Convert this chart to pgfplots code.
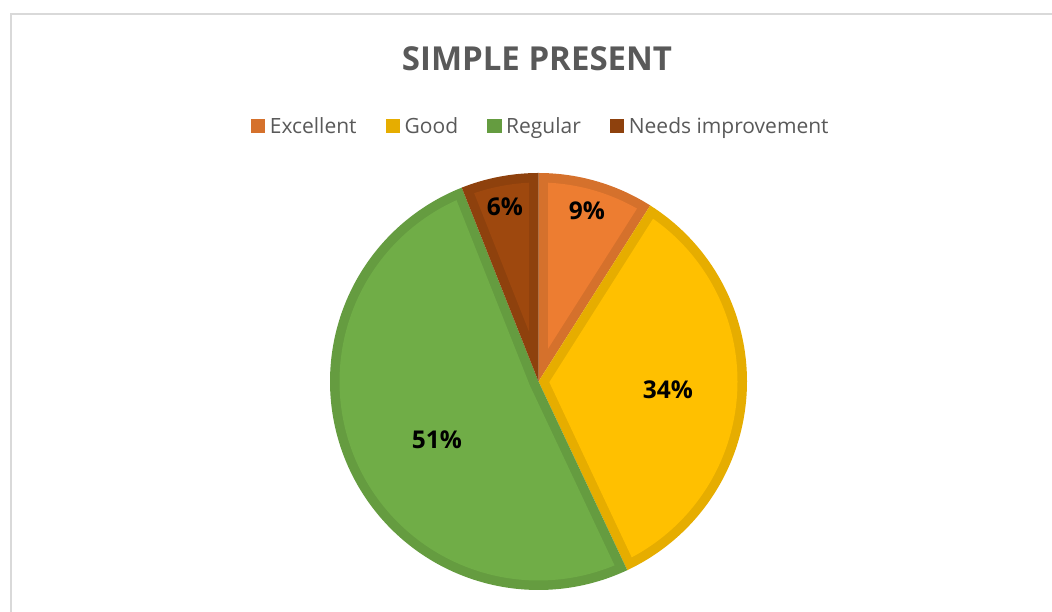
\documentclass[border=0pt]{standalone}
\usepackage{fontspec}
\setmainfont{Open Sans}
\usepackage{pgfplots}
\usepackage{pgfplotstable}
\pgfplotsset{compat=1.18}

\definecolor{exD}{HTML}{D5712C}\definecolor{exL}{HTML}{ED7D31}
\definecolor{goD}{HTML}{E6AD00}\definecolor{goL}{HTML}{FFC000}
\definecolor{reD}{HTML}{659C40}\definecolor{reL}{HTML}{70AD47}
\definecolor{niD}{HTML}{8E410D}\definecolor{niL}{HTML}{9E480E}
\definecolor{txtgray}{HTML}{595959}
\definecolor{framegray}{HTML}{D9D9D9}

\pgfplotstableread{
name value
Excellent 9
Good 34
Regular 51
Needs 6
}\piedata

\def\cx{538.5}\def\cy{230.5}\def\R{208.5}\def\bw{9.5}

\newcommand\pieslice[5]{%
  \pgfmathsetmacro\pslo{#1}\pgfmathsetmacro\pshi{#2}%
  \pgfmathsetmacro\psth{\pshi-\pslo}%
  \pgfmathsetmacro\psmid{(\pshi+\pslo)/2}%
  \pgfmathsetmacro\psvd{\bw/sin(\psth/2)}%
  \pgfmathsetmacro\pvx{\cx+\psvd*cos(\psmid)}%
  \pgfmathsetmacro\pvy{\cy+\psvd*sin(\psmid)}%
  \pgfmathsetmacro\psri{\R-\bw}%
  \pgfmathsetmacro\psdphi{asin(\bw/\psri)}%
  \pgfmathsetmacro\pslob{\pslo+\psdphi}%
  \pgfmathsetmacro\pshib{\pshi-\psdphi}%
  \edef\pstmp{%
    \noexpand\addplot[fill=#3, draw=none, domain=\pslo:\pshi, samples=150]
      ({\cx+\R*cos(x)},{\cy+\R*sin(x)}) -- (axis cs:\cx,\cy) -- cycle;
    \noexpand\addlegendentry{#5}
    \noexpand\addplot[fill=#4, draw=none, domain=\pslob:\pshib, samples=150, forget plot]
      ({\cx+\psri*cos(x)},{\cy+\psri*sin(x)}) -- (axis cs:\pvx,\pvy) -- cycle;
  }%
  \pstmp}

\begin{document}%
\begin{tikzpicture}
\pgfplotstablegetelem{0}{value}\of\piedata \let\vA\pgfplotsretval
\pgfplotstablegetelem{1}{value}\of\piedata \let\vB\pgfplotsretval
\pgfplotstablegetelem{2}{value}\of\piedata \let\vC\pgfplotsretval
\pgfplotstablegetelem{3}{value}\of\piedata \let\vD\pgfplotsretval
\pgfmathsetmacro\aO{90}
\pgfmathsetmacro\aA{\aO-3.6*\vA}
\pgfmathsetmacro\aB{\aA-3.6*\vB}
\pgfmathsetmacro\aC{\aB-3.6*\vC}
\pgfmathsetmacro\aD{\aC-3.6*\vD}
\begin{axis}[
  at={(0,0)}, anchor=origin,
  scale only axis, width=1052pt, height=612pt,
  xmin=0, xmax=1052, ymin=0, ymax=612,
  hide axis, clip=false,
  legend columns=4,
  legend style={at={(axis cs:542,486)}, anchor=center, draw=none, fill=none,
    font=\fontsize{21}{24}\selectfont\color{txtgray},
    nodes={inner xsep=4.5pt, inner ysep=1pt},
    /tikz/every even column/.append style={column sep=24.5pt}},
  legend image code/.code={\fill[#1] (0pt,-7.3pt) rectangle (14.5pt,7.3pt);},
]
\draw[framegray, line width=2pt] (axis cs:10.5,0) -- (axis cs:10.5,597.5) -- (axis cs:1052,597.5);
\pieslice{\aA}{\aO}{exD}{exL}{Excellent}
\pieslice{\aB}{\aA}{goD}{goL}{Good}
\pieslice{\aC}{\aB}{reD}{reL}{Regular}
\pieslice{\aD+360}{\aC+360}{niD}{niL}{Needs improvement}
\node[font=\fontsize{33}{38}\selectfont\bfseries, text=txtgray] at (axis cs:537,553.5) {SIMPLE PRESENT};
\node[font=\fontsize{24.5}{28}\selectfont\bfseries] at (axis cs:587,401) {9\%};
\node[font=\fontsize{24.5}{28}\selectfont\bfseries] at (axis cs:668,222) {34\%};
\node[font=\fontsize{24.5}{28}\selectfont\bfseries] at (axis cs:437,172) {51\%};
\node[font=\fontsize{24.5}{28}\selectfont\bfseries] at (axis cs:505,405) {6\%};
\end{axis}
\pgfresetboundingbox
\useasboundingbox (0,0) rectangle (1052pt,612pt);
\end{tikzpicture}%
\end{document}
